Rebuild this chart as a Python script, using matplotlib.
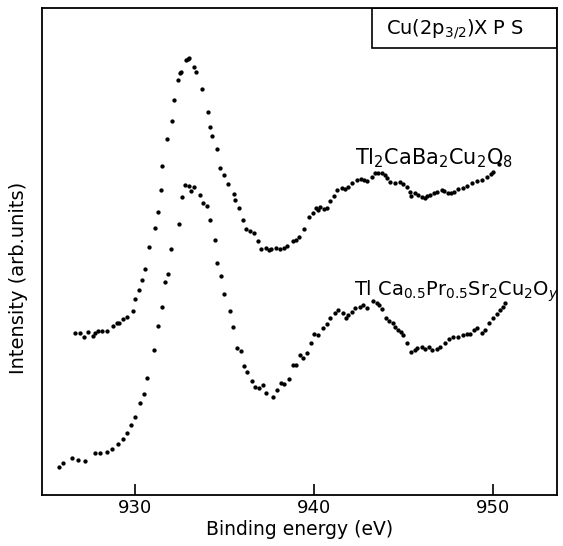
import numpy as np
import matplotlib
matplotlib.use("Agg")
import matplotlib.pyplot as plt
from matplotlib.patches import Rectangle

# ─── Data ─────────────────────────────────────────────────────────────────────

# Tl2CaBa2Cu2O8
energy_tl2 = [
    926.65, 926.93, 927.15, 927.37, 927.65, 927.77, 927.93, 928.16, 928.44, 928.77,
    928.99, 929.11, 929.33, 929.55, 929.89, 930.00, 930.22, 930.39, 930.56, 930.78,
    931.12, 931.28, 931.45, 931.51, 931.79, 932.07, 932.18, 932.40, 932.51, 932.57,
    932.85, 932.96, 933.02, 933.30, 933.41, 933.74, 934.08, 934.19, 934.30, 934.58,
    934.75, 934.97, 935.20, 935.53, 935.59, 935.81, 936.03, 936.20, 936.42, 936.65,
    936.87, 937.04, 937.32, 937.49, 937.60, 937.88, 938.10, 938.32, 938.49, 938.83,
    938.99, 939.16, 939.44, 939.72, 939.94, 940.11, 940.22, 940.34, 940.56, 940.73,
    940.89, 941.12, 941.28, 941.56, 941.73, 941.90, 942.12, 942.40, 942.63, 942.79,
    942.96, 943.24, 943.41, 943.58, 943.80, 943.97, 944.08, 944.25, 944.53, 944.80,
    944.97, 945.20, 945.36, 945.42, 945.64, 945.81, 946.03, 946.20, 946.31, 946.48,
    946.70, 946.87, 947.15, 947.26, 947.49, 947.65, 947.82, 948.04, 948.32, 948.55,
    948.83, 949.11, 949.39, 949.66, 949.89, 950.00, 950.34,
]
intensity_tl2 = [
    162, 162, 158, 163, 159, 162, 164, 164, 164, 169,
    172, 172, 176, 178, 184, 196, 205, 215, 226, 248,
    267, 283, 305, 329, 356, 374, 395, 415, 422, 423,
    435, 436, 437, 428, 423, 406, 383, 368, 359, 346,
    327, 320, 311, 301, 295, 287, 275, 266, 264, 262,
    254, 246, 247, 245, 246, 247, 246, 247, 249, 254,
    255, 258, 266, 278, 282, 287, 285, 288, 286, 287,
    294, 299, 305, 307, 306, 308, 312, 315, 316, 315,
    314, 318, 322, 322, 322, 320, 317, 313, 312, 313,
    311, 308, 303, 299, 302, 300, 298, 297, 299, 300,
    302, 303, 305, 304, 302, 302, 303, 306, 307, 309,
    312, 314, 315, 318, 321, 323, 331,
]

# TlCa0.5Pr0.5Sr2Cu2Oy
energy_tlpr = [
    925.75, 925.98, 926.48, 926.82, 927.21, 927.77, 928.04, 928.44, 928.72, 929.05,
    929.33, 929.55, 929.78, 930.00, 930.28, 930.50, 930.67, 931.06, 931.28, 931.51,
    931.68, 931.84, 932.01, 932.46, 932.63, 932.79, 933.02, 933.13, 933.30, 933.63,
    933.80, 934.02, 934.19, 934.47, 934.58, 934.80, 934.97, 935.31, 935.47, 935.70,
    935.92, 936.09, 936.26, 936.54, 936.70, 936.93, 937.15, 937.32, 937.71, 937.93,
    938.16, 938.32, 938.60, 938.83, 938.99, 939.22, 939.39, 939.61, 939.83, 940.00,
    940.22, 940.50, 940.73, 940.89, 941.17, 941.34, 941.62, 941.79, 941.90, 942.12,
    942.29, 942.57, 942.74, 942.96, 943.30, 943.52, 943.63, 943.80, 944.02, 944.19,
    944.41, 944.53, 944.69, 944.86, 944.97, 945.20, 945.42, 945.64, 945.75, 946.03,
    946.20, 946.42, 946.59, 946.87, 947.04, 947.32, 947.54, 947.77, 948.04, 948.32,
    948.55, 948.72, 948.94, 949.11, 949.39, 949.55, 949.78, 950.00, 950.22, 950.39,
    950.56, 950.67,
]
intensity_tlpr = [
    28, 32, 37, 35, 34, 42, 42, 43, 46, 51,
    56, 62, 70, 78, 92, 101, 117, 145, 169, 188,
    213, 221, 246, 271, 298, 310, 309, 304, 308, 300,
    292, 289, 275, 255, 232, 219, 201, 184, 168, 147,
    144, 129, 123, 114, 108, 107, 110, 102, 98, 105,
    112, 111, 116, 130, 130, 140, 137, 142, 152, 161,
    160, 167, 171, 177, 182, 185, 182, 177, 180, 183,
    187, 188, 190, 187, 194, 192, 190, 186, 177, 174,
    172, 168, 165, 163, 160, 152, 143, 145, 147, 148,
    146, 148, 145, 146, 148, 152, 156, 158, 158, 160,
    161, 161, 165, 167, 162, 165, 172, 177, 181, 185,
    188, 192,
]

xticks = [930, 940, 950]
label_tl2 = r"Tl$_2$CaBa$_2$Cu$_2$O$_8$"
label_tlpr = r"Tl Ca$_{0.5}$Pr$_{0.5}$Sr$_2$Cu$_2$O$_y$"
box_text = r"Cu(2p$_{3/2}$)X P S"

# ─── Figure ───────────────────────────────────────────────────────────────────

W, H = 563, 546
fig = plt.figure(figsize=(W / 100, H / 100), dpi=100)
ax = fig.add_axes([42 / W, 1 - 495 / H, (557 - 42) / W, (495 - 8) / H])

ax.plot(energy_tl2, intensity_tl2, "o", color="black", ms=3.1, mew=0)
ax.plot(energy_tlpr, intensity_tlpr, "o", color="black", ms=3.1, mew=0)

ax.set_xlim(924.8, 953.6)
ax.set_ylim(0, 487)
ax.set_xticks(xticks)
ax.set_yticks([])
ax.tick_params(axis="x", direction="in", length=8, width=1.2,
               labelsize=13, pad=3)
for s in ax.spines.values():
    s.set_linewidth(1.3)

ax.set_xlabel("Binding energy (eV)", fontsize=13.5, labelpad=2)
fig.text(19 / W, 1 - 278 / H, "Intensity (arb.units)", rotation=90,
         ha="center", va="center", fontsize=14)

# sample labels
ax.text(942.3, 331, label_tl2, fontsize=15, ha="left", va="baseline")
ax.text(942.25, 199, label_tlpr, fontsize=14, ha="left", va="baseline")

# box in the upper right corner
ax.add_patch(Rectangle((372 / W, 1 - 48 / H), (557 - 372) / W, 40 / H,
                       transform=fig.transFigure, fill=False, lw=1.2, color="black"))
fig.text(455 / W, 1 - 29 / H, box_text, ha="center", va="center", fontsize=14)

fig.savefig("out.png", dpi=100, facecolor="white")
